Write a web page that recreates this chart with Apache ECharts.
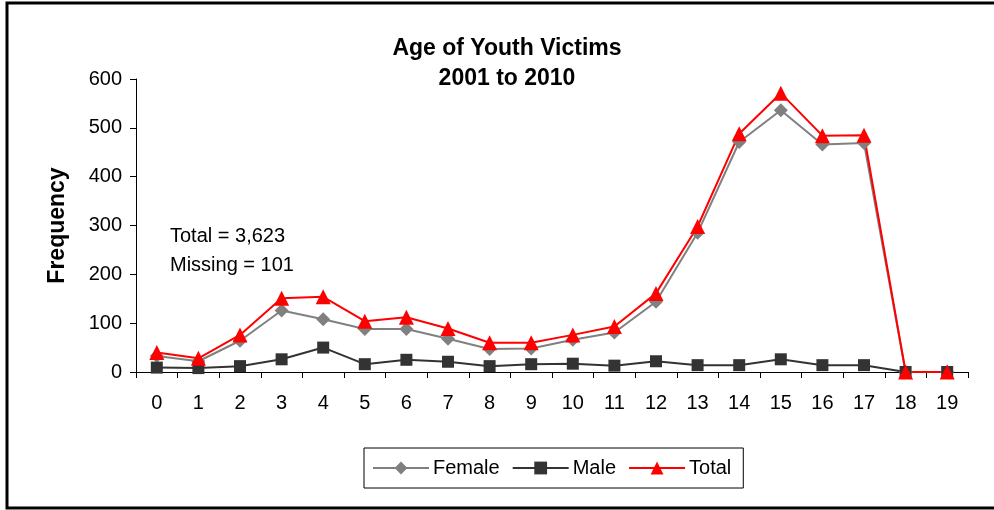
<!DOCTYPE html>
<html>
<head>
<meta charset="utf-8">
<script src="https://cdn.jsdelivr.net/npm/echarts@6/dist/echarts.min.js"></script>
<style>
  html, body { margin: 0; padding: 0; background: #fff; }
  #main { width: 994px; height: 510px; }
</style>
</head>
<body>
<div id="main"></div>
<script>
// ages 0..19
const ages = ["0","1","2","3","4","5","6","7","8","9","10","11","12","13","14","15","16","17","18","19"];
const female = [33, 22, 64, 126, 108, 88, 88, 68, 47, 48, 66, 81, 144, 285, 471, 536, 466, 469, 0, 0];
const male = [9, 8, 12, 26, 50, 16, 25, 21, 12, 16, 17, 13, 22, 14, 14, 26, 14, 14, 0, 0];
const total = [40, 28, 76, 151, 154, 104, 112, 89, 60, 60, 76, 93, 161, 298, 488, 571, 484, 485, 0, 0];
const yTicks = [0, 100, 200, 300, 400, 500, 600];
const notes = ["Total = 3,623", "Missing = 101"];

const font = "'Liberation Sans', Arial, sans-serif";

var myChart = echarts.init(document.getElementById("main"));
var option = {
    backgroundColor: "#fff",
    animation: false,
    title: {
        text: "Age of Youth Victims\n2001 to 2010",
        left: 502,
        top: 29,
        textAlign: "center",
        textStyle: {
            fontFamily: font,
            fontSize: 23,
            fontWeight: "bold",
            color: "#000",
            lineHeight: 30,
        },
    },
    grid: { left: 136, right: 26, top: 79, bottom: 138 },
    legend: {
        left: 364,
        top: 448,
        padding: [10, 12, 10, 8],
        itemWidth: 56,
        itemHeight: 16,
        itemGap: 12,
        borderColor: "#000",
        borderWidth: 1,
        textStyle: { fontFamily: font, fontSize: 20, color: "#000", padding: [0, 0, 0, -1] },
        data: ["Female", "Male", "Total"],
    },
    xAxis: {
        type: "category",
        data: ages,
        boundaryGap: true,
        axisLine: { lineStyle: { color: "#000", width: 1 } },
        axisTick: { show: true, length: 6, lineStyle: { color: "#000" } },
        axisLabel: { fontFamily: font, fontSize: 20, color: "#000", margin: 21 },
    },
    yAxis: {
        type: "value",
        min: 0,
        max: 600,
        interval: 100,
        name: "Frequency",
        nameLocation: "middle",
        nameGap: 67,
        nameTextStyle: { fontFamily: font, fontSize: 23, fontWeight: "bold", color: "#000" },
        axisLine: { show: true, lineStyle: { color: "#000", width: 1 } },
        axisTick: { show: true, length: 6, lineStyle: { color: "#000" } },
        axisLabel: {
            fontFamily: font, fontSize: 20, color: "#000", margin: 14,
            formatter: (v) => (yTicks.indexOf(v) >= 0 ? String(v) : ""),
        },
        splitLine: { show: false },
    },
    graphic: [
        {
            type: "rect",
            shape: { x: 7, y: 3, width: 1000, height: 505 },
            style: { fill: "none", stroke: "#000", lineWidth: 3 },
            silent: true,
        },
        {
            type: "text",
            left: 170,
            top: 226,
            style: { text: notes[0], fontFamily: font, fontSize: 20, fill: "#000" },
        },
        {
            type: "text",
            left: 170,
            top: 255,
            style: { text: notes[1], fontFamily: font, fontSize: 20, fill: "#000" },
        },
    ],
    series: [
        {
            name: "Female",
            type: "line",
            data: female,
            symbol: "diamond",
            symbolSize: 14,
            itemStyle: { color: "#808080" },
            lineStyle: { color: "#808080", width: 2 },
        },
        {
            name: "Male",
            type: "line",
            data: male,
            symbol: "rect",
            symbolSize: 12,
            itemStyle: { color: "#333333" },
            lineStyle: { color: "#333333", width: 2 },
        },
        {
            name: "Total",
            type: "line",
            data: total,
            symbol: "triangle",
            symbolSize: 15,
            itemStyle: { color: "#ff0000" },
            lineStyle: { color: "#ff0000", width: 2 },
        },
    ],
};
myChart.setOption(option);
</script>
</body>
</html>
